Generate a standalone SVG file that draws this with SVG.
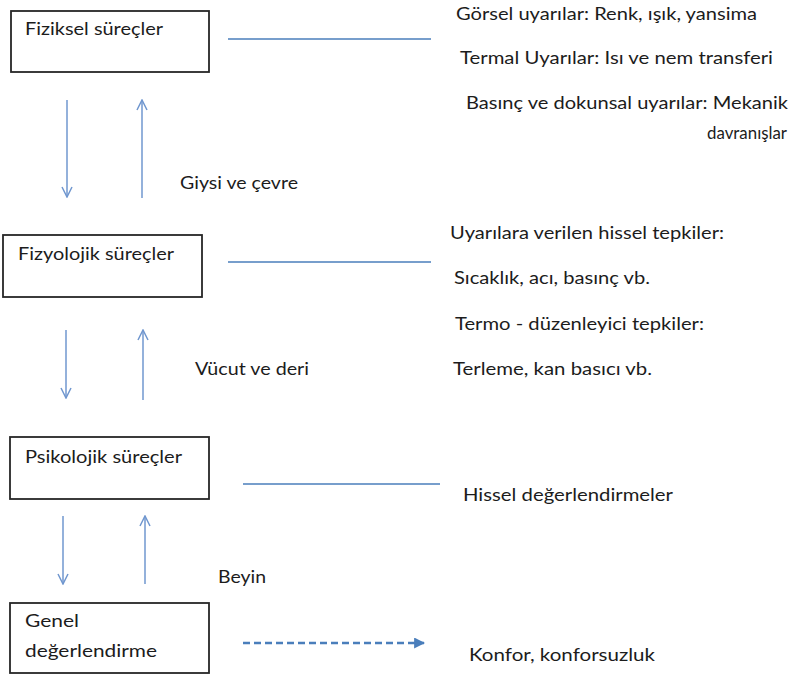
<svg xmlns="http://www.w3.org/2000/svg" width="792" height="675" viewBox="0 0 792 675">
<defs>
<style>
.box{fill:#fff;stroke:#262626;stroke-width:1.8}
.t{font-family:Lato,"Liberation Sans",sans-serif;font-size:18px;fill:#1c1c1c}
.ln{stroke:#4a7ebb;stroke-width:1.5;fill:none}
.ar{stroke:#7097cf;stroke-width:1.5;fill:none}
.dash{stroke:#4a7ebb;stroke-width:2.5;stroke-dasharray:7 4;fill:none}
</style>
<marker id="open" viewBox="0 0 12 12" refX="11" refY="6" markerWidth="12" markerHeight="12" markerUnits="userSpaceOnUse" orient="auto">
<path d="M1,1 L11,6 L1,11" fill="none" stroke="#7097cf" stroke-width="1.5"/>
</marker>
<marker id="solid" viewBox="0 0 10 10" refX="9" refY="5" markerWidth="11" markerHeight="11" markerUnits="userSpaceOnUse" orient="auto">
<path d="M0,0 L10,5 L0,10 Z" fill="#4a7ebb"/>
</marker>
</defs>
<rect width="792" height="675" fill="#fff"/>
<g id="node-fiziksel">
<rect class="box" x="11" y="11" width="198" height="61"/>
<text class="t" x="25" y="35" textLength="138" lengthAdjust="spacingAndGlyphs">Fiziksel süreçler</text>
</g>
<g id="node-fizyolojik">
<rect class="box" x="3" y="235" width="199" height="62"/>
<text class="t" x="18" y="260" textLength="156" lengthAdjust="spacingAndGlyphs">Fizyolojik süreçler</text>
</g>
<g id="node-psikolojik">
<rect class="box" x="10" y="437" width="199" height="62"/>
<text class="t" x="25" y="463" textLength="157" lengthAdjust="spacingAndGlyphs">Psikolojik süreçler</text>
</g>
<g id="node-genel">
<rect class="box" x="10" y="603" width="199" height="70"/>
<text class="t" x="25" y="627" textLength="54" lengthAdjust="spacingAndGlyphs">Genel</text>
<text class="t" x="25" y="657" textLength="132" lengthAdjust="spacingAndGlyphs">değerlendirme</text>
</g>
<g id="connectors">
<line class="ln" x1="228" y1="39" x2="431" y2="39"/>
<line class="ln" x1="228" y1="262" x2="431" y2="262"/>
<line class="ln" x1="243" y1="484" x2="440" y2="484"/>
<line class="dash" x1="243" y1="643" x2="424" y2="643" marker-end="url(#solid)"/>
<line class="ar" x1="67" y1="100" x2="67" y2="197" marker-end="url(#open)"/>
<line class="ar" x1="142" y1="198" x2="142" y2="100" marker-end="url(#open)"/>
<line class="ar" x1="66" y1="330" x2="66" y2="398" marker-end="url(#open)"/>
<line class="ar" x1="143" y1="400" x2="143" y2="330" marker-end="url(#open)"/>
<line class="ar" x1="63" y1="516" x2="63" y2="584" marker-end="url(#open)"/>
<line class="ar" x1="145" y1="584" x2="145" y2="516" marker-end="url(#open)"/>
</g>
<g id="labels">
<text class="t" x="180" y="189" textLength="118" lengthAdjust="spacingAndGlyphs">Giysi ve çevre</text>
<text class="t" x="195" y="375" textLength="114" lengthAdjust="spacingAndGlyphs">Vücut ve deri</text>
<text class="t" x="218" y="583" textLength="48" lengthAdjust="spacingAndGlyphs">Beyin</text>
<text class="t" x="456" y="20" textLength="301" lengthAdjust="spacingAndGlyphs">Görsel uyarılar: Renk, ışık, yansima</text>
<text class="t" x="460" y="64" textLength="313" lengthAdjust="spacingAndGlyphs">Termal Uyarılar: Isı ve nem transferi</text>
<text class="t" x="466" y="109" textLength="322" lengthAdjust="spacingAndGlyphs">Basınç ve dokunsal uyarılar: Mekanik</text>
<text class="t" x="707" y="139" textLength="80" lengthAdjust="spacingAndGlyphs">davranışlar</text>
<text class="t" x="450" y="239" textLength="274" lengthAdjust="spacingAndGlyphs">Uyarılara verilen hissel tepkiler:</text>
<text class="t" x="454" y="284" textLength="196" lengthAdjust="spacingAndGlyphs">Sıcaklık, acı, basınç vb.</text>
<text class="t" x="455" y="330" textLength="249" lengthAdjust="spacingAndGlyphs">Termo - düzenleyici tepkiler:</text>
<text class="t" x="453" y="375" textLength="199" lengthAdjust="spacingAndGlyphs">Terleme, kan basıcı vb.</text>
<text class="t" x="463" y="501" textLength="210" lengthAdjust="spacingAndGlyphs">Hissel değerlendirmeler</text>
<text class="t" x="469" y="661" textLength="186" lengthAdjust="spacingAndGlyphs">Konfor, konforsuzluk</text>
</g>
</svg>
